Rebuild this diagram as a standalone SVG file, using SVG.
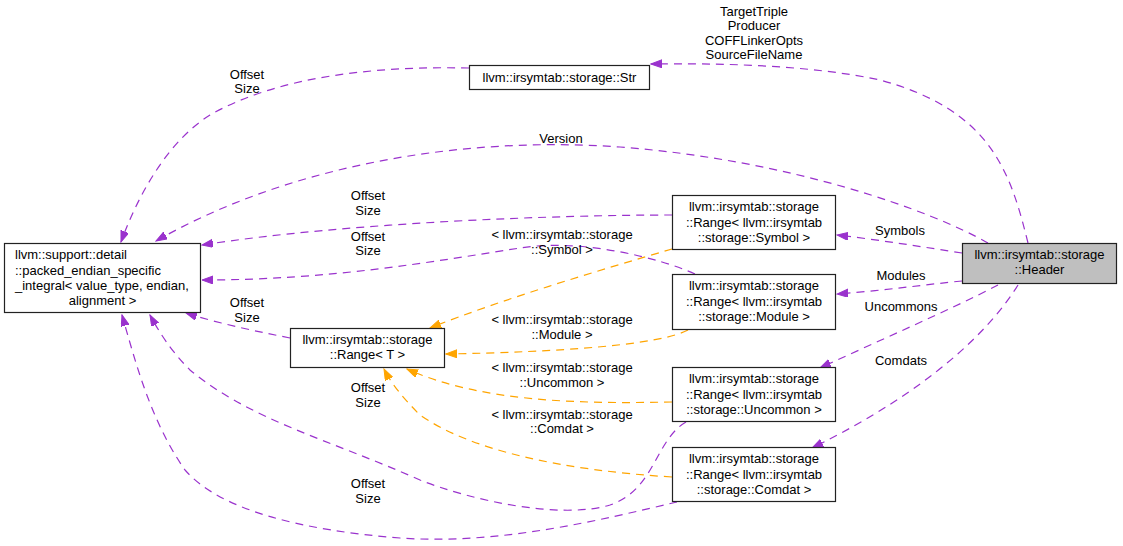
<svg xmlns="http://www.w3.org/2000/svg" width="1123" height="546" viewBox="0 0 1123 546">
<style>
text{font-family:"Liberation Sans",Arial,sans-serif;font-size:13px;fill:#000}
.c{text-anchor:middle}
.box{fill:#fff;stroke:#222;stroke-width:1.2}
.hdr{fill:#bfbfbf;stroke:#222;stroke-width:1.2}
.p{fill:none;stroke:#9a32cd;stroke-width:1.2;stroke-dasharray:8,6}
.o{fill:none;stroke:#ffa500;stroke-width:1.2;stroke-dasharray:8,6}
</style>
<defs>
<marker id="ap" markerUnits="userSpaceOnUse" markerWidth="12" markerHeight="9" refX="11" refY="4" orient="auto"><path d="M0,0 L11,4 L0,8 z" fill="#9a32cd" stroke="#9a32cd"/></marker>
<marker id="ao" markerUnits="userSpaceOnUse" markerWidth="12" markerHeight="9" refX="11" refY="4" orient="auto"><path d="M0,0 L11,4 L0,8 z" fill="#ffa500" stroke="#ffa500"/></marker>
</defs>
<rect width="1123" height="546" fill="#fff"/>
<g id="connectors">
<path class="p" marker-end="url(#ap)" d="M1028,243 C1010,170 990,110 880,80 C810,65 720,63 651,64"/>
<path class="p" marker-end="url(#ap)" d="M469,68 C380,66 280,75 210,115 C170,140 140,190 121,242"/>
<path class="p" marker-end="url(#ap)" d="M988,243 C930,210 790,160 620,147 C450,135 280,170 156,241"/>
<path class="p" marker-end="url(#ap)" d="M672,215 C560,215 350,222 202,245"/>
<path class="p" marker-end="url(#ap)" d="M695,274 C660,258 580,238 520,248 C430,262 330,280 202,280"/>
<path class="p" marker-end="url(#ap)" d="M290,338 C260,332 220,324 186,313"/>
<path class="p" marker-end="url(#ap)" d="M686,422 C655,440 655,490 610,505 C560,520 470,500 420,480 C330,440 250,420 190,370 C170,350 158,330 150,315"/>
<path class="p" marker-end="url(#ap)" d="M677,502 C600,520 500,545 400,538 C300,530 220,510 185,470 C150,420 135,360 122,315"/>
<path class="p" marker-end="url(#ap)" d="M962,253 C930,248 880,240 837,235"/>
<path class="p" marker-end="url(#ap)" d="M962,281 C930,284 880,291 837,294"/>
<path class="p" marker-end="url(#ap)" d="M998,285 C950,310 880,340 820,368"/>
<path class="p" marker-end="url(#ap)" d="M1018,285 C990,330 930,390 812,448"/>
<path class="o" marker-end="url(#ao)" d="M672,249 C600,270 500,300 430,328"/>
<path class="o" marker-end="url(#ao)" d="M688,330 C660,345 560,352 446,354"/>
<path class="o" marker-end="url(#ao)" d="M672,402 C580,404 480,402 407,369"/>
<path class="o" marker-end="url(#ao)" d="M672,477 C560,470 470,450 420,415 C405,400 392,385 384,369"/>
</g>
<g id="edge-labels">
<text class="c" x="754" y="16">TargetTriple</text>
<text class="c" x="754" y="30">Producer</text>
<text class="c" x="754" y="45">COFFLinkerOpts</text>
<text class="c" x="754" y="59">SourceFileName</text>
<text class="c" x="247" y="79">Offset</text>
<text class="c" x="247" y="93">Size</text>
<text class="c" x="561" y="143">Version</text>
<text class="c" x="368" y="200">Offset</text>
<text class="c" x="368" y="215">Size</text>
<text class="c" x="368" y="241">Offset</text>
<text class="c" x="368" y="255">Size</text>
<text class="c" x="247" y="307">Offset</text>
<text class="c" x="247" y="322">Size</text>
<text class="c" x="368" y="392">Offset</text>
<text class="c" x="368" y="407">Size</text>
<text class="c" x="368" y="488">Offset</text>
<text class="c" x="368" y="503">Size</text>
<text class="c" x="562" y="239">&lt; llvm::irsymtab::storage</text>
<text class="c" x="562" y="254">::Symbol &gt;</text>
<text class="c" x="562" y="324">&lt; llvm::irsymtab::storage</text>
<text class="c" x="562" y="339">::Module &gt;</text>
<text class="c" x="562" y="372">&lt; llvm::irsymtab::storage</text>
<text class="c" x="562" y="387">::Uncommon &gt;</text>
<text class="c" x="562" y="419">&lt; llvm::irsymtab::storage</text>
<text class="c" x="562" y="433">::Comdat &gt;</text>
<text class="c" x="900" y="235">Symbols</text>
<text class="c" x="901" y="280">Modules</text>
<text class="c" x="901" y="311">Uncommons</text>
<text class="c" x="901" y="365">Comdats</text>
</g>
<g id="node-str">
<rect class="box" x="469.5" y="65.5" width="180" height="24"/>
<text class="c" x="559.5" y="82">llvm::irsymtab::storage::Str</text>
</g>
<g id="node-packed">
<rect class="box" x="4.5" y="243.5" width="196" height="69"/>
<text x="15" y="259">llvm::support::detail</text>
<text x="15" y="275">::packed_endian_specific</text>
<text x="15" y="290">_integral&lt; value_type, endian,</text>
<text class="c" x="102.5" y="305">alignment &gt;</text>
</g>
<g id="node-range-t">
<rect class="box" x="290.5" y="328.5" width="154" height="39"/>
<text class="c" x="367.5" y="344">llvm::irsymtab::storage</text>
<text class="c" x="367.5" y="359">::Range&lt; T &gt;</text>
</g>
<g id="node-range-symbol">
<rect class="box" x="672.5" y="195.5" width="163" height="54"/>
<text class="c" x="754" y="211">llvm::irsymtab::storage</text>
<text class="c" x="754" y="227">::Range&lt; llvm::irsymtab</text>
<text class="c" x="754" y="242">::storage::Symbol &gt;</text>
</g>
<g id="node-range-module">
<rect class="box" x="672.5" y="274.5" width="163" height="55"/>
<text class="c" x="754" y="290">llvm::irsymtab::storage</text>
<text class="c" x="754" y="306">::Range&lt; llvm::irsymtab</text>
<text class="c" x="754" y="321">::storage::Module &gt;</text>
</g>
<g id="node-range-uncommon">
<rect class="box" x="672.5" y="367.5" width="163" height="54"/>
<text class="c" x="754" y="383">llvm::irsymtab::storage</text>
<text class="c" x="754" y="399">::Range&lt; llvm::irsymtab</text>
<text class="c" x="754" y="414">::storage::Uncommon &gt;</text>
</g>
<g id="node-range-comdat">
<rect class="box" x="672.5" y="447.5" width="163" height="54"/>
<text class="c" x="754" y="463">llvm::irsymtab::storage</text>
<text class="c" x="754" y="479">::Range&lt; llvm::irsymtab</text>
<text class="c" x="754" y="494">::storage::Comdat &gt;</text>
</g>
<g id="node-header">
<rect class="hdr" x="962.5" y="243.5" width="154" height="40"/>
<text class="c" x="1039.5" y="259">llvm::irsymtab::storage</text>
<text class="c" x="1039.5" y="274">::Header</text>
</g>
</svg>
